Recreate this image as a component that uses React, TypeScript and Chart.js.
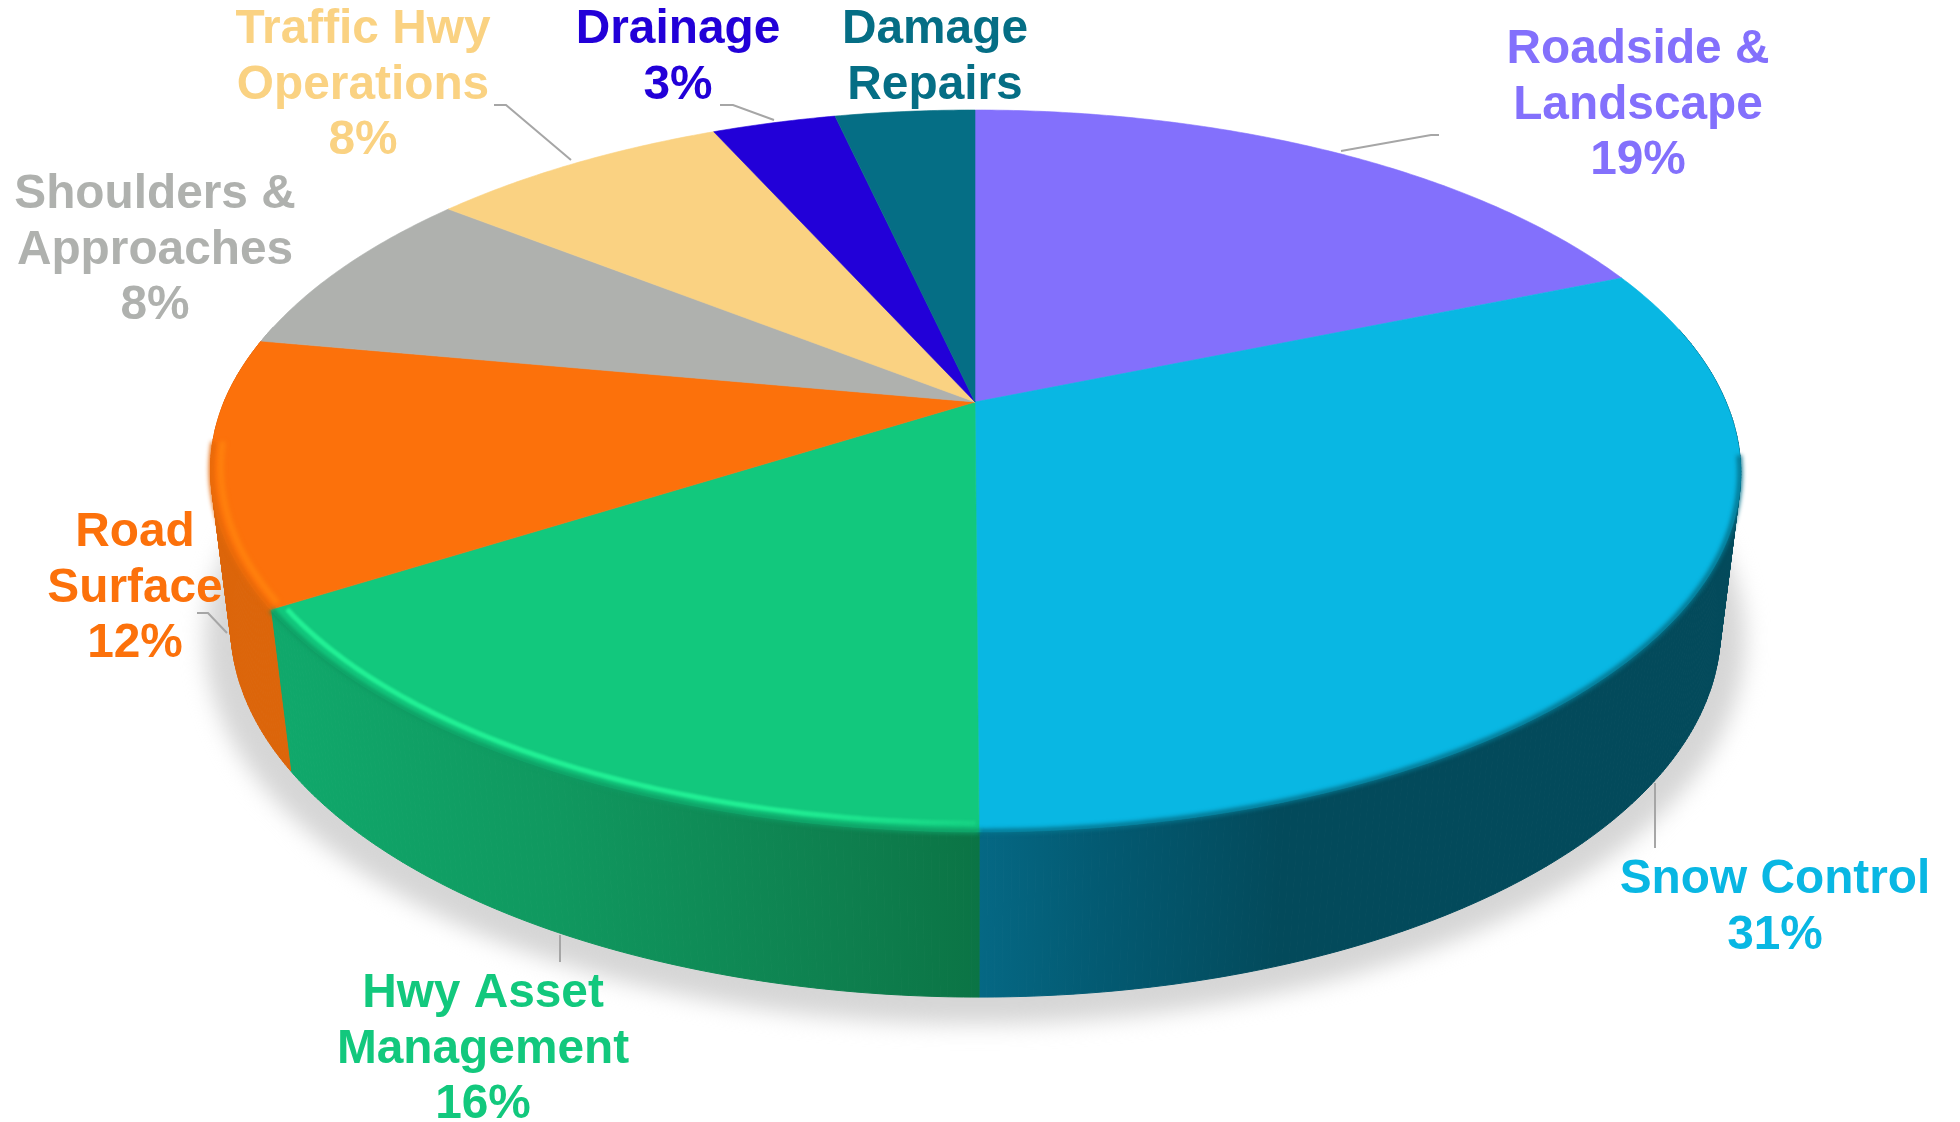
import React, { useEffect, useRef } from "react";
import { Chart, registerables } from "chart.js";

Chart.register(...registerables);

const categories = [
  "Roadside & Landscape",
  "Snow Control",
  "Hwy Asset Management",
  "Road Surface",
  "Shoulders & Approaches",
  "Traffic Hwy Operations",
  "Drainage",
  "Damage Repairs",
];
const shares = [18.75, 31.25, 16.0, 11.9, 7.75, 7.65, 3.15, 3.55];
const faceColors = ["#8370FC", "#09B7E3", "#12C87D", "#FC710B", "#AFB1AE", "#FAD282", "#2200D8", "#056E85"];
const labelLines = [
  ["Roadside &", "Landscape", "19%"],
  ["Snow Control", "31%"],
  ["Hwy Asset", "Management", "16%"],
  ["Road", "Surface", "12%"],
  ["Shoulders &", "Approaches", "8%"],
  ["Traffic Hwy", "Operations", "8%"],
  ["Drainage", "3%"],
  ["Damage", "Repairs"],
];

// Layout and styling, separate from the values
const labelAnchors = [
  [1638, 63], [1775, 893], [483, 1007], [135, 546],
  [155, 208], [363, 43], [678, 43], [935, 43],
];
const LINE_STEP = 55.5;
const leaders = [
  [[1341, 151], [1431, 135], [1439, 135]],
  [[1655, 783], [1655, 848]],
  [[560, 935], [560, 962]],
  [[197, 613], [208, 613], [227, 633]],
  [[494, 105], [506, 105], [571, 160]],
  [[720, 105], [733, 105], [774, 120]],
];
type Stop = [number, string];
const sideStops: Record<number, Stop[]> = {
  1: [[979, "#056884"], [1100, "#035A72"], [1280, "#034A5B"], [1742, "#034A5B"]],
  2: [[288, "#10A86B"], [560, "#10985F"], [850, "#0E7F4E"], [979, "#0B7445"]],
  3: [[200, "#DC650A"], [290, "#DC650A"]],
};
const rimColors: Record<number, string> = { 1: "#04738C", 2: "#0E9A62", 3: "#E5690A" };

const topDisc = { cx: 975, y0: 402, a: 751, b: 347.8, k: 0.1911 };
const baseDisc = { cx: 975, y0: 558.4, a: 732, b: 357.3, k: 0.1855 };
const SKEW = 3.3;
type Disc = typeof topDisc;

function project(theta: number, disc: Disc, r = 1) {
  const u = r * Math.sin(theta);
  const v = -r * Math.cos(theta);
  const den = 1 - disc.k * v;
  return {
    x: disc.cx + (disc.a * u + SKEW * Math.max(v, 0)) / den,
    y: disc.y0 + (disc.b * v) / den,
  };
}

function arcPath(ctx: CanvasRenderingContext2D, a0: number, a1: number, disc: Disc, r = 1, join = false) {
  const n = Math.max(2, Math.ceil(((a1 - a0) * 180) / Math.PI / 0.5));
  for (let i = 0; i <= n; i++) {
    const p = project(a0 + ((a1 - a0) * i) / n, disc, r);
    if (i === 0 && !join) ctx.moveTo(p.x, p.y);
    else ctx.lineTo(p.x, p.y);
  }
}

const perspectivePie = {
  id: "perspectivePie",
  beforeDatasetsDraw(chart: any) {
    const ctx: CanvasRenderingContext2D = chart.ctx;
    const arcs = chart.getDatasetMeta(0).data.map((el: any, i: number) => ({
      i,
      a0: el.startAngle + Math.PI / 2,
      a1: el.endAngle + Math.PI / 2,
      color: el.options.backgroundColor as string,
    }));

    ctx.save();
    ctx.fillStyle = "#FFFFFF";
    ctx.fillRect(0, 0, chart.width, chart.height);

    // Soft shadow below the body
    ctx.save();
    ctx.filter = "blur(11px)";
    ctx.fillStyle = "#D6D6D6";
    ctx.beginPath();
    ctx.ellipse(975, 640, 770, 384, 0, 0, Math.PI * 2);
    ctx.fill();
    ctx.restore();

    // Side wall: only the part of the wall that faces the viewer
    for (const arc of arcs) {
      const stops = sideStops[arc.i];
      let style: any = arc.color;
      if (stops) {
        const g = ctx.createLinearGradient(stops[0][0], 0, stops[stops.length - 1][0], 0);
        const span = stops[stops.length - 1][0] - stops[0][0];
        stops.forEach(([x, c]) => g.addColorStop((x - stops[0][0]) / span, c));
        style = g;
      }
      ctx.fillStyle = style;
      ctx.strokeStyle = style;
      ctx.lineWidth = 1;
      const n = Math.ceil(((arc.a1 - arc.a0) * 180) / Math.PI / 0.5);
      for (let k = 0; k < n; k++) {
        const t0 = arc.a0 + ((arc.a1 - arc.a0) * k) / n;
        const t1 = arc.a0 + ((arc.a1 - arc.a0) * (k + 1)) / n;
        if (-Math.cos((t0 + t1) / 2) < -0.22) continue;
        const p0 = project(t0, topDisc);
        const p1 = project(t1, topDisc);
        const q1 = project(t1, baseDisc);
        const q0 = project(t0, baseDisc);
        ctx.beginPath();
        ctx.moveTo(p0.x, p0.y);
        ctx.lineTo(p1.x, p1.y);
        ctx.lineTo(q1.x, q1.y);
        ctx.lineTo(q0.x, q0.y);
        ctx.closePath();
        ctx.fill();
        ctx.stroke();
      }
    }

    // Top face
    for (const arc of arcs) {
      ctx.fillStyle = arc.color;
      ctx.strokeStyle = arc.color;
      ctx.lineWidth = 0.6;
      ctx.beginPath();
      ctx.moveTo(topDisc.cx, topDisc.y0);
      arcPath(ctx, arc.a0, arc.a1, topDisc, 1, true);
      ctx.closePath();
      ctx.fill();
      ctx.stroke();
    }

    // Soft front rim
    for (const arc of arcs) {
      const rim = rimColors[arc.i];
      if (!rim) continue;
      const a0 = arc.i === 1 ? Math.max(arc.a0, 1.72) : arc.a0;
      const a1 = arc.i === 3 ? Math.min(arc.a1, 4.6) : arc.a1;
      ctx.save();
      ctx.filter = "blur(2px)";
      ctx.strokeStyle = rim;
      ctx.lineWidth = 5;
      ctx.lineCap = "butt";
      ctx.beginPath();
      arcPath(ctx, a0, a1, topDisc, 0.999);
      ctx.stroke();
      ctx.restore();
    }

    // Bevel highlights
    ctx.save();
    ctx.filter = "blur(1.2px)";
    const glow = ctx.createLinearGradient(272, 0, 979, 0);
    glow.addColorStop(0, "rgba(34,240,149,1)");
    glow.addColorStop(0.72, "rgba(34,240,149,0.95)");
    glow.addColorStop(1, "rgba(34,240,149,0.25)");
    ctx.strokeStyle = glow;
    ctx.lineWidth = 5;
    ctx.beginPath();
    arcPath(ctx, arcs[2].a0 + 0.004, arcs[2].a1 - 0.01, topDisc, 0.983);
    ctx.stroke();
    ctx.filter = "blur(2px)";
    ctx.strokeStyle = "#FF810D";
    ctx.lineWidth = 6;
    ctx.beginPath();
    arcPath(ctx, arcs[3].a0 + 0.01, 4.6, topDisc, 0.987);
    ctx.stroke();
    ctx.restore();

    // Leader lines
    ctx.strokeStyle = "#A6A6A6";
    ctx.lineWidth = 2;
    ctx.lineJoin = "miter";
    for (const line of leaders) {
      ctx.beginPath();
      line.forEach(([x, y], j) => (j ? ctx.lineTo(x, y) : ctx.moveTo(x, y)));
      ctx.stroke();
    }

    // Data labels
    ctx.font = 'bold 47.8px "Liberation Sans", Arial, sans-serif';
    ctx.textAlign = "center";
    ctx.textBaseline = "alphabetic";
    labelLines.forEach((lines, i) => {
      ctx.fillStyle = faceColors[i];
      lines.forEach((text, j) => {
        ctx.fillText(text, labelAnchors[i][0], labelAnchors[i][1] + j * LINE_STEP);
      });
    });
    ctx.restore();
    return false;
  },
};

export default function App() {
  const ref = useRef<HTMLCanvasElement>(null);
  useEffect(() => {
    document.body.style.margin = "0";
    const chart = new Chart(ref.current as HTMLCanvasElement, {
      type: "pie",
      data: {
        labels: categories,
        datasets: [{ data: shares, backgroundColor: faceColors, borderWidth: 0 }],
      },
      options: {
        animation: false,
        responsive: false,
        devicePixelRatio: 1,
        plugins: { legend: { display: false }, tooltip: { enabled: false } },
      },
      plugins: [perspectivePie as any],
    });
    return () => chart.destroy();
  }, []);
  return <canvas ref={ref} width={1960} height={1122} style={{ display: "block" }} />;
}
